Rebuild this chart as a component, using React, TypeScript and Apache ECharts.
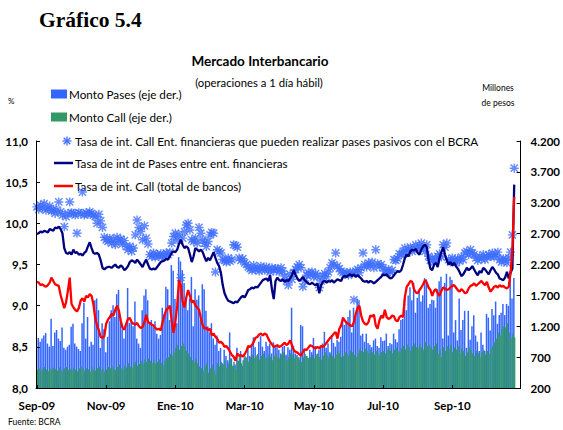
import React, { useEffect, useRef } from "react";
import * as echarts from "echarts";

const monthLabels = ["Sep-09", "Nov-09", "Ene-10", "Mar-10", "May-10", "Jul-10", "Sep-10"];
const labelStep = 38;
const categoryCount = 266;
const categories = Array.from({ length: categoryCount }, (_, i) => String(i));

// Tasa de int de Pases entre ent. financieras (%)
const tasaPases = [
  9.87, 9.88, 9.90, 9.89, 9.91, 9.90, 9.89, 9.93, 9.92, 9.91,
  9.95, 9.94, 9.96, 9.93, 9.88, 9.70, 9.64, 9.63, 9.65, 9.62,
  9.68, 9.64, 9.65, 9.62, 9.63, 9.61, 9.64, 9.66, 9.72, 9.77,
  9.70, 9.64, 9.63, 9.64, 9.62, 9.55, 9.46, 9.44, 9.46, 9.47,
  9.47, 9.46, 9.48, 9.50, 9.47, 9.46, 9.49, 9.47, 9.43, 9.45,
  9.48, 9.53, 9.55, 9.54, 9.52, 9.56, 9.53, 9.50, 9.47, 9.52,
  9.56, 9.50, 9.45, 9.44, 9.45, 9.44, 9.47, 9.50, 9.53, 9.54,
  9.55, 9.57, 9.56, 9.60, 9.64, 9.66, 9.65, 9.68, 9.75, 9.80,
  9.74, 9.70, 9.72, 9.70, 9.62, 9.53, 9.60, 9.70, 9.68, 9.66,
  9.68, 9.65, 9.59, 9.54, 9.58, 9.55, 9.60, 9.65, 9.58, 9.52,
  9.48, 9.40, 9.25, 9.15, 9.10, 9.06, 9.05, 9.04, 9.03, 9.05,
  9.04, 9.07, 9.10, 9.12, 9.10, 9.14, 9.19, 9.20, 9.22, 9.21,
  9.23, 9.22, 9.25, 9.28, 9.31, 9.32, 9.33, 9.30, 9.37, 9.20,
  9.08, 9.30, 9.34, 9.31, 9.30, 9.32, 9.29, 9.31, 9.30, 9.33,
  9.37, 9.43, 9.37, 9.33, 9.30, 9.32, 9.35, 9.31, 9.29, 9.27,
  9.26, 9.28, 9.26, 9.25, 9.27, 9.15, 9.25, 9.29, 9.30, 9.28,
  9.30, 9.29, 9.31, 9.28, 9.30, 9.32, 9.31, 9.30, 9.35, 9.36,
  9.35, 9.37, 9.38, 9.36, 9.38, 9.35, 9.37, 9.35, 9.33, 9.30,
  9.29, 9.30, 9.28, 9.30, 9.29, 9.27, 9.29, 9.31, 9.33, 9.35,
  9.38, 9.37, 9.38, 9.35, 9.33, 9.34, 9.37, 9.40, 9.42, 9.41,
  9.43, 9.50, 9.58, 9.62, 9.60, 9.66, 9.68, 9.67, 9.69, 9.64,
  9.62, 9.68, 9.72, 9.74, 9.71, 9.55, 9.45, 9.43, 9.50, 9.52,
  9.47, 9.58, 9.65, 9.71, 9.62, 9.55, 9.50, 9.53, 9.49, 9.52,
  9.48, 9.45, 9.41, 9.36, 9.38, 9.42, 9.46, 9.43, 9.45, 9.48,
  9.44, 9.40, 9.37, 9.42, 9.40, 9.46, 9.44, 9.41, 9.38, 9.43,
  9.47, 9.44, 9.40, 9.38, 9.33, 9.32, 9.31, 9.34, 9.41, 9.33,
  9.40, 9.45, 10.47,
];

// Tasa de int. Call (total de bancos) (%)
const tasaCall = [
  9.29, 9.28, 9.25, 9.26, 9.24, 9.23, 9.25, 9.28, 9.34, 9.30,
  9.26, 9.25, 9.24, 9.13, 9.05, 8.97, 9.04, 9.18, 9.34, 9.02,
  8.98, 8.95, 8.93, 8.97, 9.06, 9.09, 9.05, 9.12, 9.10, 9.14,
  9.12, 9.02, 8.85, 8.76, 8.70, 8.62, 8.61, 8.63, 8.78, 8.83,
  8.86, 8.90, 8.88, 8.95, 9.00, 8.94, 8.82, 8.73, 8.71, 8.78,
  8.84, 8.85, 8.80, 8.78, 8.77, 8.79, 8.75, 8.73, 8.74, 8.80,
  8.89, 8.80, 8.79, 8.77, 8.76, 8.73, 8.71, 8.72, 8.70, 8.80,
  8.88, 8.95, 8.97, 9.00, 8.82, 8.67, 8.80, 9.00, 9.31, 9.25,
  9.05, 8.98, 9.10, 9.19, 9.12, 9.04, 9.06, 9.00, 8.98, 8.95,
  8.85, 8.76, 8.72, 8.73, 8.70, 8.72, 8.64, 8.66, 8.62, 8.60,
  8.55, 8.56, 8.54, 8.50, 8.51, 8.48, 8.44, 8.40, 8.38, 8.33,
  8.42, 8.39, 8.40, 8.38, 8.41, 8.45, 8.51, 8.50, 8.52, 8.56,
  8.61, 8.62, 8.65, 8.66, 8.64, 8.66, 8.65, 8.60, 8.56, 8.53,
  8.50, 8.51, 8.52, 8.50, 8.51, 8.53, 8.55, 8.52, 8.54, 8.58,
  8.52, 8.46, 8.44, 8.43, 8.41, 8.39, 8.44, 8.47, 8.46, 8.49,
  8.52, 8.51, 8.49, 8.48, 8.50, 8.48, 8.51, 8.50, 8.52, 8.55,
  8.58, 8.61, 8.63, 8.66, 8.68, 8.60, 8.72, 8.76, 8.85, 8.82,
  8.79, 8.78, 8.76, 8.75, 8.80, 8.90, 8.97, 9.00, 8.88, 8.81,
  8.78, 8.77, 8.80, 8.88, 8.87, 8.89, 8.76, 8.72, 8.82, 8.88,
  8.85, 8.95, 8.86, 8.84, 8.85, 8.88, 8.87, 8.82, 8.81, 8.86,
  8.88, 8.86, 9.11, 9.23, 9.26, 9.30, 9.29, 9.20, 9.16, 9.15,
  9.19, 9.22, 9.26, 9.31, 9.28, 9.22, 9.19, 9.12, 9.18, 9.20,
  9.15, 9.12, 9.18, 9.22, 9.21, 9.19, 9.20, 9.22, 9.24, 9.25,
  9.22, 9.19, 9.17, 9.20, 9.18, 9.15, 9.16, 9.21, 9.24, 9.25,
  9.27, 9.24, 9.26, 9.28, 9.30, 9.27, 9.25, 9.29, 9.22, 9.17,
  9.20, 9.23, 9.24, 9.22, 9.25, 9.23, 9.24, 9.22, 9.21, 9.23,
  9.40, 9.68, 10.32,
];

// Tasa de int. Call Ent. financieras que pueden realizar pases pasivos con el BCRA (%)
const tasaCallEnt = [
  10.20, 10.17, 10.22, 10.19, 10.24, 10.16, 10.18, 10.21, 10.15, 10.17,
  10.12, 10.16, 10.26, 10.14, 10.10, 9.96, 10.08, 10.12, 10.26, 10.13,
  10.12, 10.10, 9.88, 10.13, 10.12, 10.38, 10.10, 10.13, 10.11, 10.14,
  10.12, 10.10, 10.08, 10.00, 10.11, 10.03, 9.95, 9.83, 9.80, 9.78,
  9.82, 9.76, 9.80, 9.74, 9.83, 9.78, 9.81, 9.75, 9.79, 9.72,
  9.68, 9.72, 9.66, 9.70, 9.86, 10.04, 9.95, 9.90, 9.80, 9.97,
  9.82, 9.75, 9.62, 9.60, 9.64, 9.59, 9.62, 9.60, 9.63, 9.61,
  9.59, 9.64, 9.62, 9.65, 9.76, 9.84, 9.88, 9.80, 9.86, 9.34,
  9.82, 9.90, 9.98, 10.00, 9.92, 9.80, 9.78, 9.82, 9.76, 9.95,
  9.88, 9.80, 9.76, 9.72, 9.78, 9.86, 9.89, 9.88, 9.41, 9.68,
  9.66, 9.64, 9.56, 9.55, 9.53, 9.58, 9.54, 9.56, 9.74, 9.73,
  9.71, 9.58, 9.55, 9.57, 9.52, 9.50, 9.47, 9.45, 9.43, 9.49,
  9.44, 9.46, 9.42, 9.48, 9.45, 9.43, 9.47, 9.44, 9.41, 9.46,
  9.43, 9.45, 9.44, 9.41, 9.46, 9.42, 9.36, 9.30, 9.25, 9.38,
  9.32, 9.40, 9.44, 9.47, 9.50, 9.46, 9.23, 9.30, 9.37, 9.40,
  9.38, 9.41, 9.35, 9.39, 9.36, 9.22, 9.30, 9.36, 9.39, 9.35,
  9.41, 9.46, 9.52, 9.50, 9.64, 9.48, 9.45, 9.42, 9.40, 9.38,
  9.40, 9.37, 9.41, 9.39, 9.07, 9.42, 9.44, 9.40, 9.46, 9.64,
  9.50, 9.47, 9.52, 9.49, 9.53, 9.46, 9.68, 9.51, 9.48, 9.50,
  9.46, 9.42, 9.40, 9.44, 9.41, 9.43, 9.56, 9.55, 9.57, 9.63,
  9.62, 9.66, 9.70, 9.64, 9.68, 9.71, 9.66, 9.70, 9.74, 9.68,
  9.72, 9.76, 9.70, 9.66, 9.74, 9.60, 9.55, 9.58, 9.53, 9.56,
  9.60, 9.63, 9.59, 9.74, 9.71, 9.76, 9.56, 9.53, 9.58, 9.55,
  9.52, 9.57, 9.54, 9.59, 9.56, 9.64, 9.66, 9.62, 9.68, 9.64,
  9.62, 9.58, 9.55, 9.60, 9.57, 9.62, 9.56, 9.59, 9.62, 9.60,
  9.64, 9.59, 9.62, 9.65, 9.56, 9.53, 9.57, 9.55, 9.52, 9.58,
  9.65, 9.86, 10.67,
];

// Monto Pases (millones de pesos, eje der.)
const montoPases = [
  980, 1010, 950, 1000, 1050, 1090, 920, 870, 1320, 880,
  1100, 1140, 1000, 960, 1180, 850, 820, 870, 900, 1190,
  1240, 920, 870, 830, 800, 1250, 1580, 1000, 1350, 870,
  950, 900, 1620, 1650, 1460, 850, 1250, 1150, 780, 1030,
  1280, 1460, 1540, 1350, 1720, 1790, 1300, 1150, 1000, 1200,
  1820, 1250, 1300, 1200, 1600, 1000, 920, 850, 1460, 1700,
  1800, 1620, 1250, 1300, 1200, 1280, 1080, 1000, 1060, 1500,
  1400, 1840, 1800, 1300, 2190, 2100, 1640, 1250, 2320, 2250,
  2110, 1900, 1650, 1460, 1650, 2000, 1200, 1800, 1630, 1700,
  1300, 1880, 1800, 1450, 1200, 1100, 1250, 1000, 900, 1050,
  800, 850, 600, 820, 720, 650, 1100, 680, 560, 580,
  850, 640, 800, 560, 680, 700, 860, 720, 900, 1020,
  860, 730, 950, 1040, 870, 800, 950, 880, 920, 760,
  940, 860, 900, 820, 760, 870, 880, 740, 860, 820,
  1500, 880, 760, 740, 700, 1220, 1200, 820, 720, 690,
  820, 780, 1010, 880, 750, 820, 860, 920, 1110, 850,
  920, 780, 1060, 930, 870, 980, 950, 1030, 1350, 1220,
  1280, 1350, 1460, 1100, 1500, 1350, 1650, 1620, 1050, 1080,
  950, 1080, 930, 900, 860, 970, 1000, 880, 850, 1020,
  960, 970, 1080, 880, 930, 910, 1080, 990, 940, 1150,
  1300, 1320, 1640, 1460, 1700, 1830, 1620, 1900, 1420, 1660,
  1780, 1600, 1700, 1980, 1960, 1500, 1560, 1630, 1620, 1500,
  1800, 1930, 2000, 1000, 1900, 2050, 1050, 2000, 1950, 1100,
  1300, 970, 1650, 1140, 1300, 1450, 850, 1450, 980, 1200,
  1380, 1050, 950, 800, 1100, 900, 800, 1400, 1340, 1130,
  1480, 1380, 1600, 1240, 1380, 1420, 1560, 1380, 1560, 1530,
  2100, 1650, 1980,
];

// Monto Call (millones de pesos, eje der.)
const montoCall = [
  500, 520, 480, 510, 540, 500, 470, 520, 490, 530,
  510, 480, 530, 500, 470, 520, 540, 490, 510, 480,
  530, 500, 470, 520, 550, 510, 480, 520, 500, 460,
  540, 500, 480, 520, 550, 490, 510, 470, 500, 540,
  520, 560, 510, 490, 540, 580, 520, 500, 560, 530,
  600, 550, 520, 580, 620, 560, 590, 640, 600, 660,
  620, 680, 640, 600, 650, 590, 620, 660, 610, 570,
  640, 680, 700, 750, 720, 780, 850, 900, 820, 880,
  920, 860, 800, 760, 700, 650, 620, 680, 600, 550,
  520, 480, 560, 600, 450, 520, 580, 500, 420, 600,
  550, 620, 580, 650, 520, 600, 680, 560, 620, 500,
  640, 700, 600, 650, 720, 680, 620, 700, 740, 680,
  700, 750, 660, 720, 760, 700, 680, 740, 700, 650,
  720, 760, 700, 680, 740, 780, 720, 650, 700, 760,
  740, 680, 720, 700, 660, 620, 700, 750, 720, 680,
  700, 740, 680, 720, 760, 700, 660, 720, 780, 740,
  700, 760, 720, 680, 740, 800, 760, 700, 720, 780,
  760, 720, 800, 780, 740, 700, 760, 820, 800, 780,
  840, 800, 760, 820, 780, 740, 800, 760, 720, 780,
  800, 760, 820, 840, 800, 760, 820, 860, 800, 780,
  840, 880, 820, 900, 860, 800, 880, 920, 860, 840,
  900, 860, 820, 940, 880, 900, 860, 820, 880, 920,
  760, 820, 700, 860, 800, 880, 840, 900, 780, 860,
  820, 880, 760, 840, 800, 720, 780, 860, 820, 760,
  720, 800, 760, 700, 780, 820, 740, 800, 760, 840,
  880, 940, 1000, 1100, 1050, 1150, 1200, 1180, 1250, 1100,
  1000, 1080, 1020,
];

const seriesNames = [
  "Monto Pases (eje der.)",
  "Monto Call (eje der.)",
  "Tasa de int. Call Ent. financieras que pueden realizar pases pasivos con el BCRA",
  "Tasa de int de Pases entre ent. financieras",
  "Tasa de int. Call (total de bancos)",
];

const FONT = 'Lato, "Open Sans", sans-serif';
const BLUE = "#3366ff";
const GREEN = "#339966";
const STAR = "#3d6dff";
const NAVY = "#000080";
const RED = "#ff0000";
const ASTERISK =
  "path://M0,4.2L10,4.2L10,5.8L0,5.8Z M4.2,0L5.8,0L5.8,10L4.2,10Z M0.43,1.57L1.57,0.43L9.57,8.43L8.43,9.57Z M8.43,0.43L9.57,1.57L1.57,9.57L0.43,8.43Z";

const fmtLeft = (v: number) => v.toFixed(1).replace(".", ",");
const fmtRight = (v: number) => {
  const n = Math.round(v);
  return n >= 1000 ? Math.floor(n / 1000) + "." + String(n % 1000).padStart(3, "0") : String(n);
};
const showLabel = (i: number) => i % labelStep === 0;

const txt = (x: number, y: number, text: string, size: number, extra: any = {}) => ({
  type: "text",
  x,
  y,
  silent: true,
  style: { text, fontSize: size, fontFamily: FONT, fill: "#000", verticalAlign: "middle", ...extra },
});

function legendGraphics() {
  const rows = [94, 117, 141, 163, 186];
  const els: any[] = [];
  els.push({ type: "rect", shape: { x: 51, y: rows[0] - 4.5, width: 16, height: 9 }, style: { fill: BLUE } });
  els.push(txt(69, rows[0], seriesNames[0], 11.7));
  els.push({ type: "rect", shape: { x: 51, y: rows[1] - 4.5, width: 16, height: 9 }, style: { fill: GREEN } });
  els.push(txt(69, rows[1], seriesNames[1], 11.7));
  const cx = 67, cy = rows[2], r = 4.5, d = 3.3;
  const starStroke = { stroke: STAR, lineWidth: 1.3 };
  els.push({ type: "line", shape: { x1: cx - r, y1: cy, x2: cx + r, y2: cy }, style: starStroke });
  els.push({ type: "line", shape: { x1: cx, y1: cy - r, x2: cx, y2: cy + r }, style: starStroke });
  els.push({ type: "line", shape: { x1: cx - d, y1: cy - d, x2: cx + d, y2: cy + d }, style: starStroke });
  els.push({ type: "line", shape: { x1: cx - d, y1: cy + d, x2: cx + d, y2: cy - d }, style: starStroke });
  els.push(txt(75, rows[2], seriesNames[2], 11.7));
  els.push({ type: "line", shape: { x1: 54, y1: rows[3], x2: 73, y2: rows[3] }, style: { stroke: NAVY, lineWidth: 2.5 } });
  els.push(txt(75, rows[3], seriesNames[3], 11.7));
  els.push({ type: "line", shape: { x1: 54, y1: rows[4], x2: 73, y2: rows[4] }, style: { stroke: RED, lineWidth: 2.5 } });
  els.push(txt(75, rows[4], seriesNames[4], 11.7));
  return els;
}

export default function App() {
  const ref = useRef<HTMLDivElement>(null);
  useEffect(() => {
    if (!ref.current) return;
    const chart = echarts.init(ref.current, undefined, { renderer: "svg" });
    chart.setOption({
      animation: false,
      backgroundColor: "#fff",
      textStyle: { fontFamily: FONT },
      grid: { left: 36, top: 141, width: 492, height: 247, containLabel: false },
      graphic: [
        txt(39, 20, "Gráfico 5.4", 21.5, { fontWeight: "bold", fontFamily: '"Liberation Serif", serif' }),
        txt(260, 61, "Mercado Interbancario", 13.5, { fontWeight: "bold", align: "center" }),
        txt(259, 82, "(operaciones a 1 día hábil)", 11.3, { align: "center" }),
        txt(8, 101, "%", 8),
        txt(498, 88, "Millones", 8.5, { align: "center" }),
        txt(498, 103, "de pesos", 8.5, { align: "center" }),
        txt(8, 422, "Fuente: BCRA", 8.5),
        ...legendGraphics(),
      ],
      xAxis: {
        type: "category",
        data: categories,
        boundaryGap: true,
        z: 5,
        axisLine: { show: true, lineStyle: { color: "#000", width: 1 } },
        axisTick: { show: true, inside: true, length: 3, alignWithLabel: true, interval: (i: number) => showLabel(i), lineStyle: { color: "#000" } },
        axisLabel: {
          interval: (i: number) => showLabel(i),
          formatter: (_v: string, i: number) => monthLabels[Math.round(i / labelStep)] || "",
          fontSize: 11.5,
          fontWeight: "bold",
          color: "#000",
          margin: 11,
          fontFamily: FONT,
        },
        splitLine: { show: false },
      },
      yAxis: [
        {
          type: "value",
          position: "left",
          min: 8,
          max: 11,
          interval: 0.5,
          z: 5,
          axisLine: { show: true, lineStyle: { color: "#000", width: 1 } },
          axisTick: { show: true, inside: true, length: 4, lineStyle: { color: "#000" } },
          axisLabel: { formatter: fmtLeft, fontSize: 11.5, fontWeight: "bold", color: "#000", margin: 8, fontFamily: FONT },
          splitLine: { show: false },
        },
        {
          type: "value",
          position: "right",
          min: 200,
          max: 4200,
          interval: 500,
          z: 5,
          axisLine: { show: true, lineStyle: { color: "#000", width: 1 } },
          axisTick: { show: true, inside: true, length: 4, lineStyle: { color: "#000" } },
          axisLabel: { formatter: fmtRight, fontSize: 11.5, fontWeight: "bold", color: "#000", margin: 10, fontFamily: FONT },
          splitLine: { show: false },
        },
      ],
      series: [
        { name: seriesNames[0], type: "bar", yAxisIndex: 1, data: montoPases, itemStyle: { color: BLUE }, barWidth: 1.5, barGap: "-50%" },
        { name: seriesNames[1], type: "bar", yAxisIndex: 1, data: montoCall, itemStyle: { color: GREEN }, barWidth: 1.5, barGap: "-50%" },
        {
          name: seriesNames[2],
          type: "scatter",
          yAxisIndex: 0,
          data: tasaCallEnt,
          symbol: ASTERISK,
          symbolSize: 9,
          itemStyle: { color: STAR },
        },
        { name: seriesNames[3], type: "line", yAxisIndex: 0, data: tasaPases, symbol: "none", showSymbol: false, lineStyle: { color: NAVY, width: 2.3 }, itemStyle: { color: NAVY } },
        { name: seriesNames[4], type: "line", yAxisIndex: 0, data: tasaCall, symbol: "none", showSymbol: false, lineStyle: { color: RED, width: 2.3 }, itemStyle: { color: RED } },
      ],
    });
    return () => chart.dispose();
  }, []);
  return <div ref={ref} style={{ position: "fixed", left: 0, top: 0, width: 563, height: 430 }} />;
}
